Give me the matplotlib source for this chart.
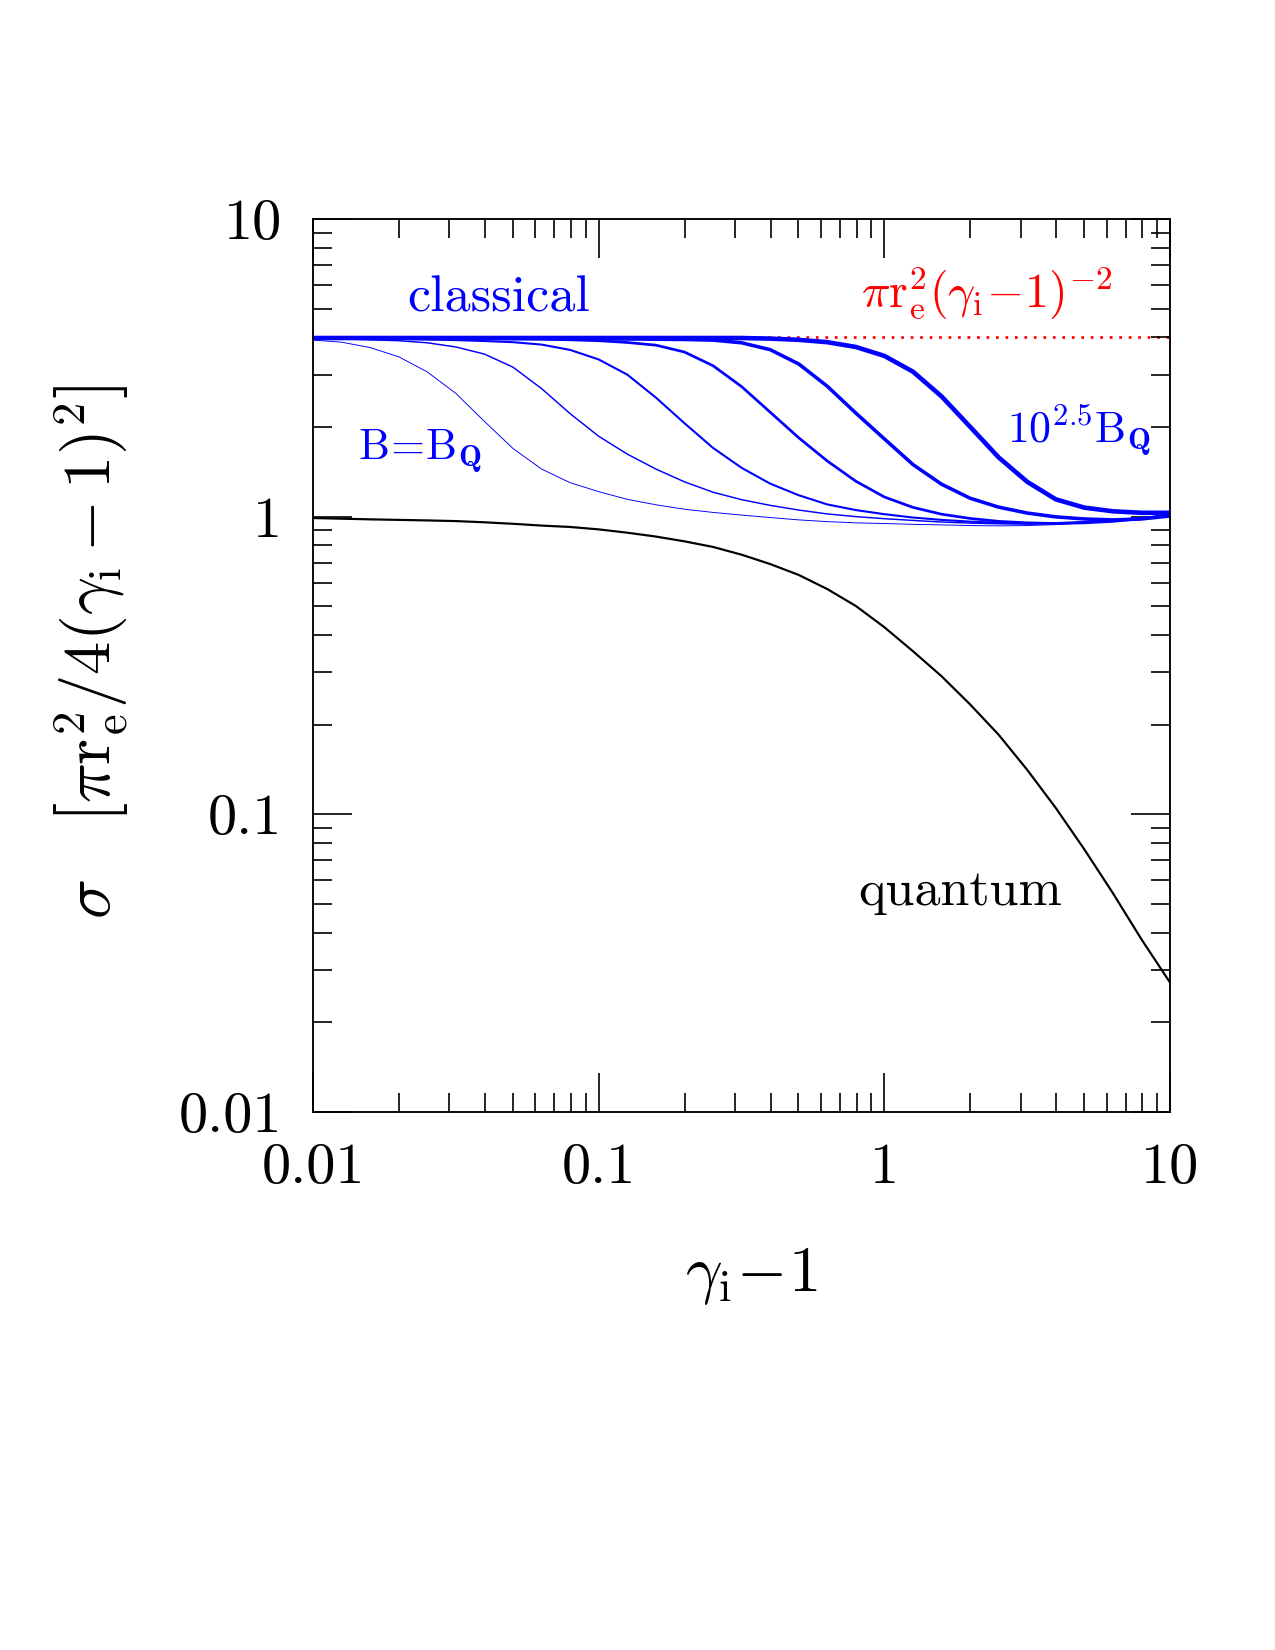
"""
Scattering cross-section vs gamma_i - 1: classical limit, magnetized curves, quantum curve.
"""

import matplotlib
matplotlib.use("Agg")
import matplotlib.pyplot as plt
from matplotlib.ticker import FixedLocator, FixedFormatter, LogLocator, NullFormatter

plt.rcParams["font.family"] = "serif"
plt.rcParams["font.serif"] = ["cmr10", "DejaVu Serif"]
plt.rcParams["mathtext.fontset"] = "cm"
plt.rcParams["axes.formatter.use_mathtext"] = True

# gamma_i - 1 sample points (0.1 dex steps)
gamma_m1 = [0.01, 0.01259, 0.01585, 0.01995, 0.02512, 0.03162, 0.03981, 0.05012, 0.0631, 0.07943,
            0.1, 0.1259, 0.1585, 0.1995, 0.2512, 0.3162, 0.3981, 0.5012, 0.631, 0.7943,
            1.0, 1.259, 1.585, 1.995, 2.512, 3.162, 3.981, 5.012, 6.31, 7.943, 10.0]

# sigma in units of pi r_e^2 / 4 (gamma_i - 1)^2, B = 10^0 ... 10^2.5 B_Q
sigma_b00 = [3.917, 3.855, 3.698, 3.443, 3.062, 2.594, 2.089, 1.694, 1.445, 1.300,
             1.213, 1.143, 1.096, 1.059, 1.033, 1.012, 0.993, 0.975, 0.962, 0.953,
             0.948, 0.942, 0.938, 0.933, 0.931, 0.933, 0.940, 0.953, 0.971, 0.989, 1.012]
sigma_b05 = [3.972, 3.954, 3.926, 3.899, 3.837, 3.715, 3.516, 3.177, 2.692, 2.218,
             1.862, 1.622, 1.445, 1.309, 1.208, 1.140, 1.091, 1.052, 1.021, 1.000,
             0.984, 0.971, 0.959, 0.951, 0.946, 0.944, 0.948, 0.957, 0.973, 0.989, 1.012]
sigma_b10 = [3.972, 3.972, 3.963, 3.954, 3.936, 3.917, 3.890, 3.855, 3.784, 3.631,
             3.373, 2.999, 2.512, 2.061, 1.702, 1.459, 1.291, 1.180, 1.099, 1.052,
             1.019, 0.993, 0.975, 0.962, 0.953, 0.948, 0.951, 0.959, 0.973, 0.989, 1.012]
sigma_b15 = [3.981, 3.981, 3.981, 3.981, 3.972, 3.972, 3.963, 3.954, 3.945, 3.926,
             3.899, 3.846, 3.767, 3.573, 3.214, 2.735, 2.244, 1.841, 1.538, 1.315,
             1.164, 1.074, 1.019, 0.986, 0.964, 0.953, 0.948, 0.953, 0.964, 0.984, 1.012]
sigma_b20 = [3.981, 3.981, 3.981, 3.981, 3.981, 3.981, 3.981, 3.972, 3.972, 3.963,
             3.963, 3.954, 3.945, 3.936, 3.917, 3.837, 3.639, 3.258, 2.742, 2.228,
             1.824, 1.496, 1.285, 1.153, 1.076, 1.028, 0.998, 0.982, 0.975, 0.982, 1.005]
sigma_b25 = [3.981, 3.981, 3.981, 3.981, 3.981, 3.981, 3.981, 3.981, 3.981, 3.981,
             3.981, 3.981, 3.981, 3.981, 3.981, 3.981, 3.963, 3.926, 3.855, 3.715,
             3.467, 3.069, 2.535, 2.004, 1.581, 1.309, 1.143, 1.072, 1.042, 1.030, 1.030]
sigma_quantum = [0.989, 0.984, 0.979, 0.975, 0.971, 0.966, 0.957, 0.946, 0.933, 0.923,
                 0.906, 0.883, 0.857, 0.826, 0.791, 0.745, 0.693, 0.637, 0.571, 0.501,
                 0.425, 0.353, 0.291, 0.234, 0.185, 0.141, 0.105, 0.0762, 0.0543, 0.0380, 0.0272]

classical_level = 4.0
classical_range = [0.01, 10.0]

blue_curves = [sigma_b00, sigma_b05, sigma_b10, sigma_b15, sigma_b20, sigma_b25]
blue_widths = [0.45, 0.7, 1.0, 1.3, 1.7, 2.2]

tick_values = [0.01, 0.1, 1, 10]
tick_labels = ["0.01", "0.1", "1", "10"]

fig = plt.figure(figsize=(8.5, 11), dpi=150)
ax = fig.add_axes([0.2455, 0.3261, 0.6722, 0.5412])
ax.set_xscale("log")
ax.set_yscale("log")
ax.set_xlim(0.01, 10)
ax.set_ylim(0.01, 10)

ax.plot(classical_range, [classical_level, classical_level], color="red",
        linestyle=(0, (1, 2.5)), linewidth=1.3, zorder=1)
for sig, lw in zip(blue_curves, blue_widths):
    ax.plot(gamma_m1, sig, color="blue", linewidth=lw, zorder=2, solid_joinstyle="round")
ax.plot(gamma_m1, sigma_quantum, color="black", linewidth=1.05, zorder=2,
        solid_joinstyle="round")

for axis in (ax.xaxis, ax.yaxis):
    axis.set_major_locator(FixedLocator(tick_values))
    axis.set_major_formatter(FixedFormatter(tick_labels))
    axis.set_minor_locator(LogLocator(base=10, subs=range(2, 10)))
    axis.set_minor_formatter(NullFormatter())

ax.tick_params(which="both", direction="in", top=True, right=True, width=0.8)
ax.tick_params(which="major", length=18.7, labelsize=28, pad=15)
ax.tick_params(which="minor", length=9.2)
for sp in ax.spines.values():
    sp.set_linewidth(0.9)

ax.set_xlabel(r"$\gamma_{\rm i}\!-\!1$", fontsize=31)
ax.xaxis.set_label_coords(0.512, -0.150)
ax.set_ylabel(r"$\sigma\quad\left[\pi \mathrm{r}_{\rm e}^2/4(\gamma_{\rm i}-1)^2\right]$",
              fontsize=32)
ax.yaxis.set_label_coords(-0.212, 0.515)

ax.text(0.0445, 4.9, "classical", color="blue", fontsize=25, ha="center", va="baseline")
ax.text(2.29, 5.06, r"$\pi \mathrm{r}_{\rm e}^2(\gamma_{\rm i}\!-\!1)^{-2}$", color="red",
        fontsize=23, ha="center", va="baseline")
ax.text(0.0144, 1.56, r"$\mathrm{B\!=\!B}_{\mathbf{Q}}$", color="blue", fontsize=21,
        ha="left", va="baseline")
ax.text(2.68, 1.77, r"$10^{2.5}\mathrm{B}_{\mathbf{Q}}$", color="blue", fontsize=21,
        ha="left", va="baseline")
ax.text(1.84, 0.0495, "quantum", color="black", fontsize=25, ha="center", va="baseline")

fig.savefig("out.png", dpi=150)
plt.close(fig)
